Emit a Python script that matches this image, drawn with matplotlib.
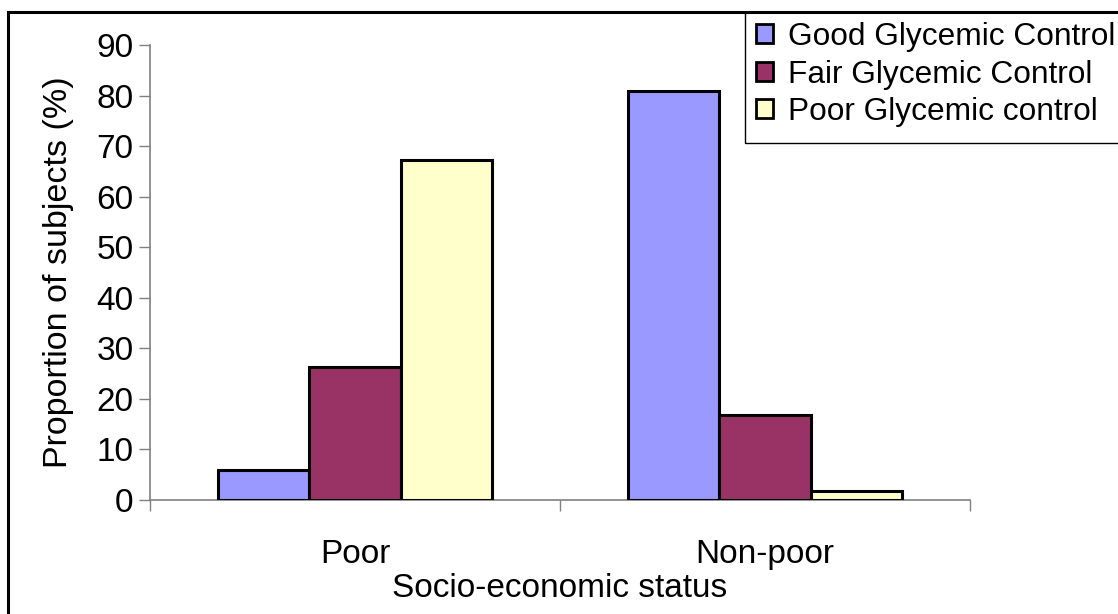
import numpy as np
import matplotlib
matplotlib.use("Agg")
import matplotlib.pyplot as plt
from matplotlib.patches import Rectangle

plt.rcParams['font.family'] = ['Liberation Sans', 'DejaVu Sans']

categories = ["Poor", "Non-poor"]
series_names = ["Good Glycemic Control", "Fair Glycemic Control", "Poor Glycemic control"]
good = [6.0, 81.0]
fair = [26.3, 16.8]
poor = [67.2, 1.7]
colors = ["#9999FF", "#993366", "#FFFFCC"]

W, H = 1118, 614
fig = plt.figure(figsize=(W / 100, H / 100), dpi=100)
ax = fig.add_axes([150 / W, 1 - 500 / H, 820 / W, 455 / H])

x = np.arange(len(categories))
width = 0.222
for i, (vals, name, c) in enumerate(zip([good, fair, poor], series_names, colors)):
    ax.bar(x + (i - 1) * width, vals, width, color=c, edgecolor="black",
           linewidth=2.2, label=name, zorder=3)

ax.set_xlim(-0.5, 1.5)
ax.set_ylim(0, 90)
ax.set_yticks(np.arange(0, 91, 10))
ax.set_xticks([-0.5, 0.5, 1.5])
ax.set_xticklabels([])
ax.set_xticks(x, minor=True)
ax.set_xticklabels(categories, minor=True)
ax.tick_params(axis="x", which="minor", length=0, pad=28, labelsize=24)
ax.tick_params(axis="x", which="major", length=8, width=1, color="#808080", direction="out")
ax.tick_params(axis="y", length=8, width=1, color="#808080", direction="out", labelsize=24, pad=4)

for s in ["top", "right"]:
    ax.spines[s].set_visible(False)
for s in ["left", "bottom"]:
    ax.spines[s].set_color("#808080")
    ax.spines[s].set_linewidth(1.2)

ax.set_ylabel("Proportion of subjects (%)", fontsize=24.5, labelpad=16)
ax.set_xlabel("Socio-economic status", fontsize=24, labelpad=2)

# outer border of the chart area
fig.patches.append(Rectangle((8 / W, -0.1), 1.2, 1 - 12 / H + 0.1,
                             transform=fig.transFigure, fill=False,
                             edgecolor="black", linewidth=2.2, zorder=10))
# legend box (runs past the right edge)
fig.patches.append(Rectangle((745 / W, 1 - 143 / H), 0.5, 131 / H,
                             transform=fig.transFigure, fill=False,
                             edgecolor="black", linewidth=1.0, zorder=9))

leg = fig.legend(loc="upper left", bbox_to_anchor=(748 / W, 1 - 14 / H),
                 fontsize=22.8, frameon=False,
                 handlelength=0.55, handleheight=0.55, handletextpad=0.45,
                 labelspacing=0.24, borderpad=0.25, borderaxespad=0)
for h in leg.legend_handles:
    h.set_linewidth(2.0)

fig.savefig("out.png", dpi=100)
